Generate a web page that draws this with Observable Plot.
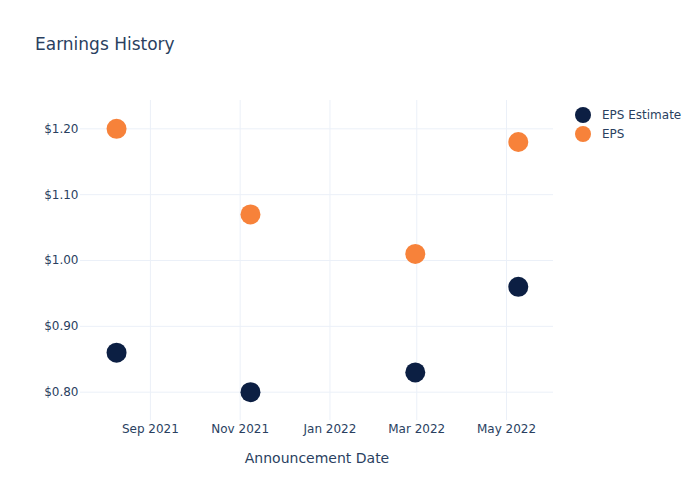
<!DOCTYPE html>
<html>
<head>
<meta charset="utf-8">
<script src="https://cdn.jsdelivr.net/npm/d3@7"></script>
<script src="https://cdn.jsdelivr.net/npm/@observablehq/plot@0.6"></script>
<style>
  body { margin: 0; background: #fff; }
  #wrap { position: relative; width: 700px; height: 500px; font-family: "DejaVu Sans", Verdana, sans-serif; color: #2a3f5f; }
  #title { position: absolute; left: 35px; top: 34px; font-size: 17px; white-space: nowrap; }
  #legend { position: absolute; left: 574px; top: 105px; font-size: 12px; }
  .item { display: flex; align-items: center; height: 19.5px; }
  .item svg { margin-right: 10px; }
  #chart svg { display: block; }
</style>
</head>
<body>
<div id="wrap">
  <div id="chart"></div>
  <div id="title">Earnings History</div>
  <div id="legend"></div>
</div>
<script>
const dates = ["2021-08-09", "2021-11-08", "2022-02-28", "2022-05-09"];
const epsEstimate = [0.86, 0.80, 0.83, 0.96];
const eps = [1.20, 1.07, 1.01, 1.18];
const seriesNames = ["EPS Estimate", "EPS"];
const seriesColors = ["#0c1f43", "#f7823a"];
const yTicks = [0.8, 0.9, 1.0, 1.1, 1.2];
const xTicks = ["2021-09-01", "2021-11-01", "2022-01-01", "2022-03-01", "2022-05-01"];

const rows = [];
dates.forEach((d, i) => {
  rows.push({date: new Date(d), value: epsEstimate[i], series: seriesNames[0]});
  rows.push({date: new Date(d), value: eps[i], series: seriesNames[1]});
});

const textColor = "#2a3f5f";
const chart = Plot.plot({
  width: 700,
  height: 500,
  marginLeft: 80,
  marginRight: 147,
  marginTop: 100,
  marginBottom: 80,
  style: {fontFamily: "DejaVu Sans, Verdana, sans-serif", fontSize: "12px", color: textColor, background: "#fff"},
  x: {type: "utc", domain: [new Date("2021-07-15T12:00Z"), new Date("2022-06-01T22:00Z")]},
  y: {domain: [0.757, 1.243]},
  color: {domain: seriesNames, range: seriesColors},
  marks: [
    Plot.gridX(xTicks.map(d => new Date(d)), {stroke: "#ebf0f8", strokeOpacity: 1, strokeWidth: 1}),
    Plot.gridY(yTicks, {stroke: "#ebf0f8", strokeOpacity: 1, strokeWidth: 1}),
    Plot.axisY(yTicks, {tickSize: 0, tickPadding: 2, tickFormat: d => "$" + d.toFixed(2), label: null, fill: textColor, fontSize: 12}),
    Plot.axisX(xTicks.map(d => new Date(d)), {tickSize: 0, tickPadding: 4, tickFormat: d3.utcFormat("%b %Y"), label: null, fill: textColor, fontSize: 12}),
    Plot.text(["Announcement Date"], {frameAnchor: "bottom", dy: 42, lineAnchor: "bottom", fill: textColor, fontSize: 14}),
    Plot.dot(rows, {x: "date", y: "value", fill: "series", r: 10, stroke: "none"})
  ]
});
document.getElementById("chart").appendChild(chart);

const legend = document.getElementById("legend");
seriesNames.forEach((name, i) => {
  const item = document.createElement("div");
  item.className = "item";
  item.innerHTML = `<svg width="18" height="18"><circle cx="9" cy="9" r="8" fill="${seriesColors[i]}"></circle></svg><span>${name}</span>`;
  legend.appendChild(item);
});
</script>
</body>
</html>
